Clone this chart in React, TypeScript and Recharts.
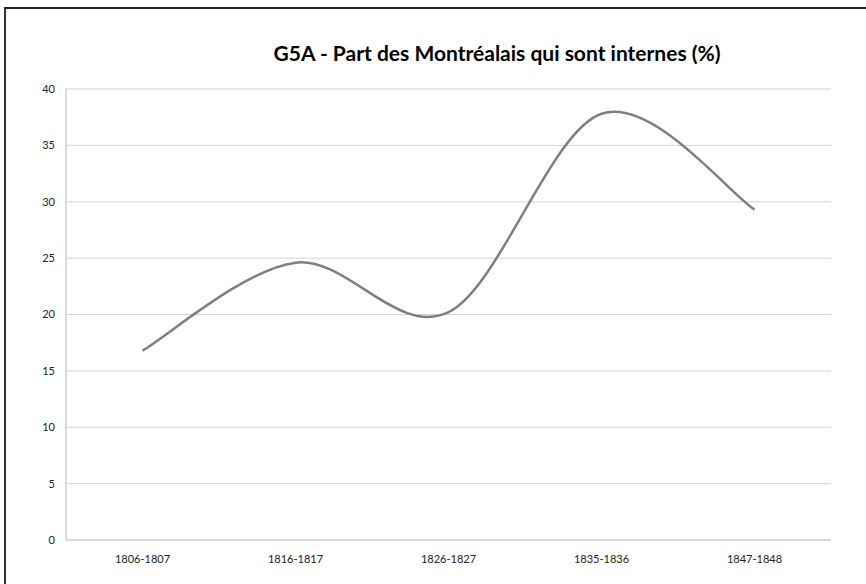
import React from "react";
import { LineChart, Line, XAxis, YAxis, CartesianGrid } from "recharts";

const periods = ["1806-1807", "1816-1817", "1826-1827", "1835-1836", "1847-1848"];
const shareInternes = [16.8, 24.6, 20.2, 37.8, 29.3];
const yTicks = [0, 5, 10, 15, 20, 25, 30, 35, 40];

const data = periods.map((p, i) => ({ period: p, value: shareInternes[i] }));

// Excel-like smoothing (Catmull-Rom / cardinal tension 0)
function excelSmooth(context: any) {
  let pts: number[][] = [];
  return {
    areaStart() {},
    areaEnd() {},
    lineStart() {
      pts = [];
    },
    point(x: number, y: number) {
      pts.push([+x, +y]);
    },
    lineEnd() {
      const n = pts.length;
      if (n === 0) return;
      context.moveTo(pts[0][0], pts[0][1]);
      if (n === 1) return;
      for (let i = 0; i < n - 1; i++) {
        const p0 = pts[i - 1] || pts[i];
        const p1 = pts[i];
        const p2 = pts[i + 1];
        const p3 = pts[i + 2] || pts[i + 1];
        const c1x = p1[0] + (p2[0] - p0[0]) / 6;
        const c1y = p1[1] + (p2[1] - p0[1]) / 6;
        const c2x = p2[0] - (p3[0] - p1[0]) / 6;
        const c2y = p2[1] - (p3[1] - p1[1]) / 6;
        context.bezierCurveTo(c1x, c1y, c2x, c2y, p2[0], p2[1]);
      }
    },
  };
}

const FONT = "Lato, 'Open Sans', sans-serif";

export default function App() {
  return (
    <div
      style={{
        position: "fixed",
        left: 0,
        top: 0,
        width: 866,
        height: 584,
        background: "#fff",
        overflow: "hidden",
        fontFamily: FONT,
      }}
    >
      <div
        style={{
          position: "absolute",
          left: 4,
          top: 7,
          width: 900,
          height: 600,
          borderTop: "2px solid #222",
          borderLeft: "2px solid #333",
        }}
      />
      <div
        style={{
          position: "absolute",
          left: 497,
          top: 40,
          transform: "translateX(-50%)",
          whiteSpace: "nowrap",
          fontSize: 21,
          fontWeight: 700,
          color: "#000",
          fontFamily: FONT,
        }}
      >
        G5A - Part des Montréalais qui sont internes (%)
      </div>
      <div style={{ position: "absolute", left: 0, top: 0 }}>
        <LineChart
          width={866}
          height={584}
          data={data}
          margin={{ top: 89, right: 35, bottom: 14, left: 6 }}
        >
          <CartesianGrid vertical={false} stroke="#d4d4d4" strokeWidth={1} />
          <XAxis
            dataKey="period"
            axisLine={{ stroke: "#d0d0d0", strokeWidth: 1.5 }}
            tickLine={false}
            tickMargin={9}
            height={30}
            interval={0}
            padding={{ left: 76.5, right: 76.5 }}
            tick={{ fill: "#222", fontSize: 11, fontFamily: FONT }}
          />
          <YAxis
            domain={[0, 40]}
            ticks={yTicks}
            width={60}
            axisLine={{ stroke: "#d0d0d0", strokeWidth: 1.5 }}
            tickLine={false}
            tickMargin={5}
            tick={{ fill: "#222", fontSize: 11, fontFamily: FONT }}
          />
          <Line
            dataKey="value"
            type={excelSmooth as any}
            stroke="#7f7f7f"
            strokeWidth={2.5}
            dot={false}
            activeDot={false}
            isAnimationActive={false}
          />
        </LineChart>
      </div>
    </div>
  );
}
